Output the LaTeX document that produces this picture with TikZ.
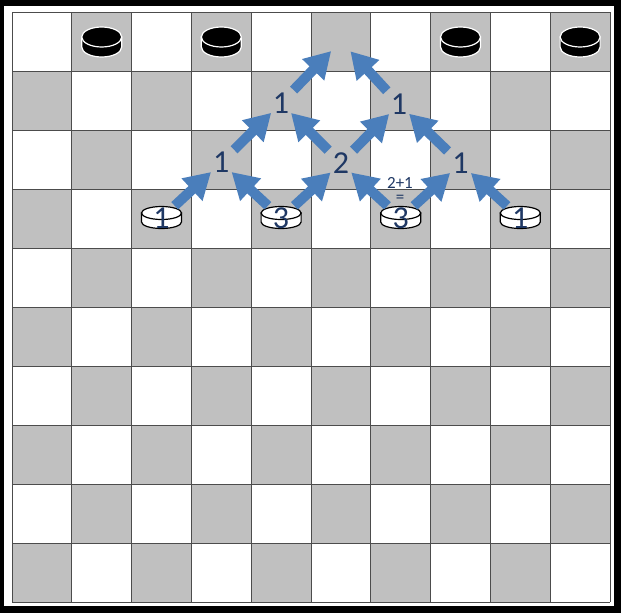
\documentclass[tikz,border=0pt]{standalone}
\usepackage{fontspec}
\setmainfont{Carlito}
\usetikzlibrary{arrows.meta}
\pgfdeclarelayer{board}
\pgfdeclarelayer{links}
\pgfsetlayers{board,links,main}
\definecolor{boardgray}{RGB}{192,192,192}
\definecolor{arrowblue}{RGB}{74,126,187}
\definecolor{numnavy}{RGB}{31,56,100}
% checker: x, y of top face, y radius, height, fill, line
\newcommand{\checker}[6]{%
	\filldraw[fill=#5, draw=#6, line width=1.2pt] (#1-20, #2) -- (#1-20, #2+#4) arc[start angle=180, end angle=0, x radius=20, y radius=#3] -- (#1+20, #2) -- cycle;
	\filldraw[fill=#5, draw=#6, line width=1.2pt] (#1, #2) ellipse[x radius=20, y radius=#3];
}
\tikzset{
	num/.style={text=numnavy, font=\fontsize{32}{32}\selectfont, inner sep=0pt},
	small/.style={text=numnavy, font=\fontsize{17}{17}\selectfont, inner sep=0pt},
	arr/.style={arrowblue, line width=10pt, -{Triangle[length=26pt, width=29pt]}, shorten <=18pt, shorten >=14pt},
	gridline/.style={line width=0.8pt, color=black!70},
}
\begin{document}
\begin{tikzpicture}[x=1pt, y=-1pt]
			%%%%% START %%%%%
			\useasboundingbox (0, 0) rectangle (621, 613);
			
			\begin{pgfonlayer}{board}
			\fill[black] (0, 0) rectangle (621, 613);
			\fill[white] (4, 6) rectangle (614, 606);
			
			\fill[white] (12, 12) rectangle (610, 602);
			\foreach \r in {0,...,9}
				\foreach \c in {0,2,...,8} {
					\pgfmathtruncatemacro{\cc}{\c+1-mod(\r,2)}
					\fill[boardgray] ({12+59.8*\cc}, {12+59*\r}) rectangle +(59.8, 59);
				}
			\foreach \i in {0,...,10} {
				\draw[gridline] ({12+59.8*\i}, 12) -- ({12+59.8*\i}, 602);
				\draw[gridline] (12, {12+59*\i}) -- (610, {12+59*\i});
			}
			
			\checker{101.7}{37}{10}{10}{black}{white}
			\checker{221.3}{37}{10}{10}{black}{white}
			\checker{460.5}{37}{10}{10}{black}{white}
			\checker{580.1}{37}{10}{10}{black}{white}
			
			\checker{161.5}{213}{6.5}{9}{white}{black}
			\checker{281.1}{213}{6.5}{9}{white}{black}
			\checker{400.7}{213}{6.5}{9}{white}{black}
			\checker{520.3}{213}{6.5}{9}{white}{black}
			\end{pgfonlayer}
			
			\coordinate (goal) at (340.9, 41);
			
			\node[num] (p2) at (161.5, 218) {1};
			\node[num] (p4) at (281.1, 218) {3};
			\node[num] (p6) at (400.7, 218) {3};
			\node[num] (p8) at (520.3, 218) {1};
			
			\node[num] (n3) at (221.3, 162.5) {1};
			\node[num] (n5) at (340.9, 163) {2};
			\node[num] (n7) at (460.5, 163.5) {1};
			\node[num] (m4) at (281.1, 103) {1};
			\node[num] (m6) at (399, 104) {1};
			
			\node[small] (sum) at (400, 183) {2+1};
			\node[small] (eq) at (400, 198.5) {=};
			
			\begin{pgfonlayer}{links}
			\draw[arr] (p2.center) -- (n3.center);
			\draw[arr] (p4.center) -- (n3.center);
			\draw[arr] (p4.center) -- (n5.center);
			\draw[arr] (p6.center) -- (n5.center);
			\draw[arr] (p6.center) -- (n7.center);
			\draw[arr] (p8.center) -- (n7.center);
			\draw[arr] (n3.center) -- (m4.center);
			\draw[arr] (n5.center) -- (m4.center);
			\draw[arr] (n5.center) -- (m6.center);
			\draw[arr] (n7.center) -- (m6.center);
			\draw[arr] (m4.center) -- (goal);
			\draw[arr] (m6.center) -- (goal);
			\end{pgfonlayer}
			%%%%% END %%%%%
\end{tikzpicture}
\end{document}
